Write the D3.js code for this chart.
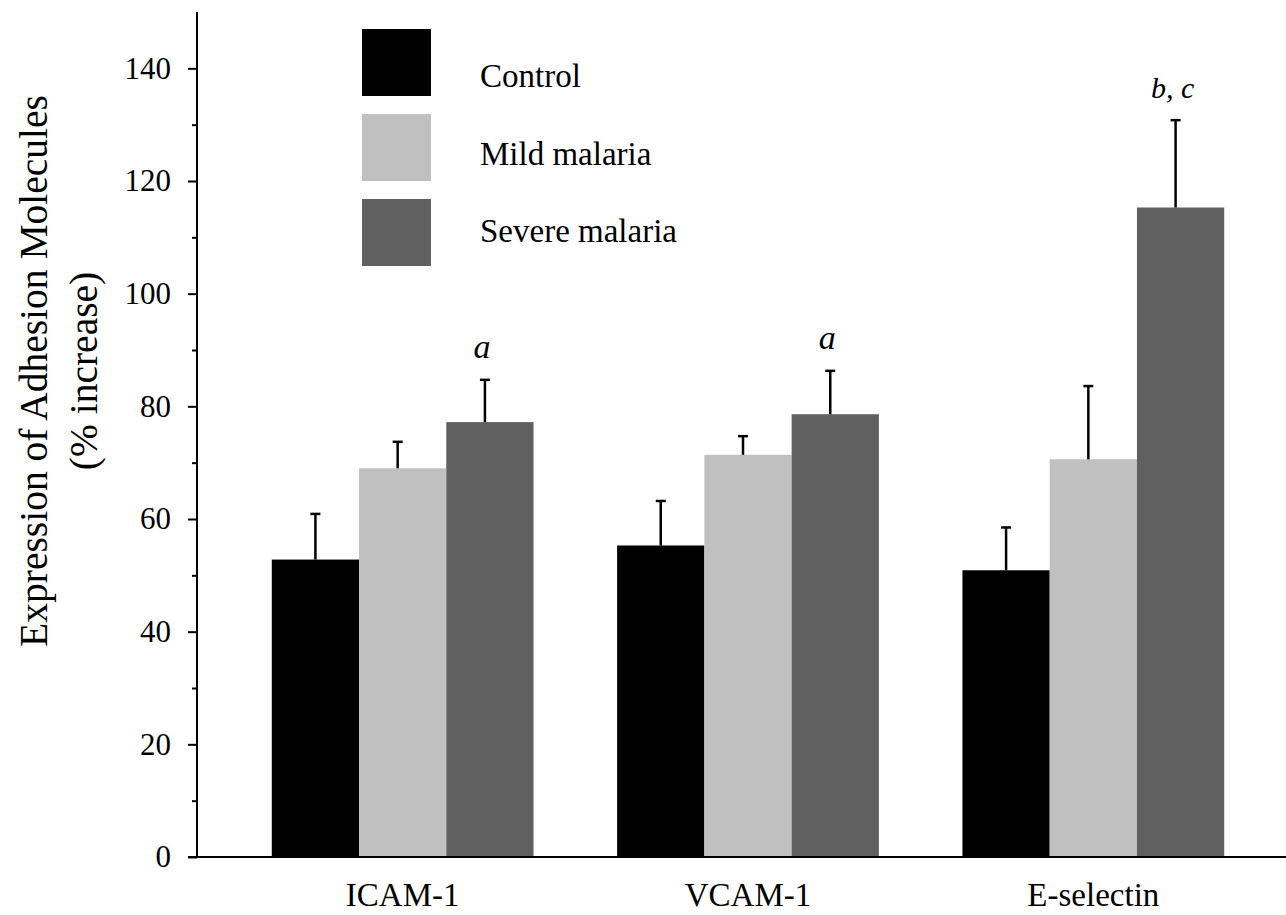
<!DOCTYPE html>
<html>
<head>
<meta charset="utf-8">
<script src="https://cdn.jsdelivr.net/npm/d3@7"></script>
<style>
  body { margin: 0; background: #fff; }
</style>
</head>
<body>
<div id="chart-container"></div>
<script>
// chart size
const width = 1286;
const height = 915;
const serif = "Liberation Serif";

// data
const groups = ["ICAM-1", "VCAM-1", "E-selectin"];
const series = ["Control", "Mild malaria", "Severe malaria"];
const colors = ["#000000", "#c0c0c0", "#606060"];
const means = [
  [52.8, 69.0, 77.2],   // ICAM-1
  [55.3, 71.4, 78.6],   // VCAM-1
  [50.9, 70.6, 115.3]   // E-selectin
];
const errors = [
  [8.1, 4.7, 7.5],
  [7.9, 3.3, 7.7],
  [7.6, 13.0, 15.5]
];
const yTicks = [0, 20, 40, 60, 80, 100, 120, 140];
const yMinorTicks = [10, 30, 50, 70, 90, 110, 130];
const notes = [
  { group: 0, serie: 2, label: "a", size: 34 },
  { group: 1, serie: 2, label: "a", size: 34 },
  { group: 2, serie: 2, label: "b, c", size: 30 }
];

const svg = d3.select("#chart-container")
  .append("svg")
  .attr("width", width)
  .attr("height", height);

// scales
const axisX = 197;
const y = d3.scaleLinear().domain([0, 150]).range([857, 12]);

const x0 = d3.scaleBand()
  .domain(groups)
  .range([230, 1266])
  .paddingInner(0.242)
  .paddingOuter(0.121);

const x1 = d3.scaleBand()
  .domain(series)
  .range([0, x0.bandwidth()]);

// flatten into bar records
const bars = [];
groups.forEach((g, gi) => {
  series.forEach((s, si) => {
    bars.push({ group: g, serie: s, si: si, value: means[gi][si], err: errors[gi][si] });
  });
});

// bars
svg.append("g")
  .selectAll("rect")
  .data(bars)
  .enter()
  .append("rect")
  .attr("x", d => x0(d.group) + x1(d.serie))
  .attr("y", d => y(d.value))
  .attr("width", x1.bandwidth())
  .attr("height", d => y(0) - y(d.value) + 1)
  .attr("fill", d => colors[d.si]);

// error bars (upper only), drawn a little left of centre like the original
const eb = svg.append("g")
  .attr("stroke", "#000")
  .attr("stroke-width", 2.5);

const cx = d => x0(d.group) + x1(d.serie) + x1.bandwidth() / 2 - (d.si > 0 ? 5 : 0);

eb.selectAll("line.stem")
  .data(bars)
  .enter()
  .append("line")
  .attr("class", "stem")
  .attr("x1", cx)
  .attr("x2", cx)
  .attr("y1", d => y(d.value))
  .attr("y2", d => y(d.value + d.err));

eb.selectAll("line.cap")
  .data(bars)
  .enter()
  .append("line")
  .attr("class", "cap")
  .attr("x1", d => cx(d) - 5)
  .attr("x2", d => cx(d) + 5)
  .attr("y1", d => y(d.value + d.err))
  .attr("y2", d => y(d.value + d.err));

// y axis
const yAxis = svg.append("g")
  .attr("transform", `translate(${axisX},0)`)
  .call(d3.axisLeft(y).tickValues(yTicks).tickSize(9).tickPadding(17).tickFormat(d3.format("d")));
yAxis.attr("font-family", null).attr("font-size", null);
yAxis.select(".domain").remove();
yAxis.selectAll(".tick line").attr("stroke", "#000").attr("stroke-width", 2);
yAxis.selectAll(".tick text")
  .style("font-family", serif)
  .style("font-size", "31px")
  .attr("fill", "#000");

svg.append("g")
  .attr("transform", `translate(${axisX},0)`)
  .call(d3.axisLeft(y).tickValues(yMinorTicks).tickSize(5).tickFormat(""))
  .call(g => g.select(".domain").remove())
  .selectAll(".tick line").attr("stroke", "#000").attr("stroke-width", 2);

svg.append("line")
  .attr("x1", axisX).attr("x2", axisX)
  .attr("y1", y(150)).attr("y2", y(0))
  .attr("stroke", "#000").attr("stroke-width", 2);

// x axis line
svg.append("line")
  .attr("x1", axisX - 9).attr("x2", width)
  .attr("y1", y(0)).attr("y2", y(0))
  .attr("stroke", "#000").attr("stroke-width", 2);

// group labels
svg.append("g")
  .selectAll("text")
  .data(groups)
  .enter()
  .append("text")
  .attr("x", d => x0(d) + x0.bandwidth() / 2)
  .attr("y", 906)
  .attr("text-anchor", "middle")
  .style("font-family", serif)
  .style("font-size", "33px")
  .text(d => d);

// y axis title
const title = svg.append("text")
  .attr("transform", "translate(47,371) rotate(-90)")
  .attr("text-anchor", "middle")
  .style("font-family", serif)
  .style("font-size", "39.5px");
title.append("tspan").attr("x", 0).attr("y", 0).text("Expression of Adhesion Molecules");
title.append("tspan").attr("x", 0).attr("y", 50).text("(% increase)");

// significance letters
svg.append("g")
  .selectAll("text")
  .data(notes)
  .enter()
  .append("text")
  .attr("x", d => x0(groups[d.group]) + x1(series[d.serie]) + x1.bandwidth() / 2 - 8)
  .attr("y", d => y(means[d.group][d.serie] + errors[d.group][d.serie]) - 22)
  .attr("text-anchor", "middle")
  .style("font-family", serif)
  .style("font-style", "italic")
  .style("font-size", d => d.size + "px")
  .text(d => d.label);

// legend
const legend = svg.append("g");
legend.selectAll("rect")
  .data(series)
  .enter()
  .append("rect")
  .attr("x", 362)
  .attr("y", (d, i) => 29 + i * 85)
  .attr("width", 69)
  .attr("height", 67)
  .attr("fill", (d, i) => colors[i]);

legend.selectAll("text")
  .data(series)
  .enter()
  .append("text")
  .attr("x", 480)
  .attr("y", (d, i) => 87 + i * 77.5)
  .style("font-family", serif)
  .style("font-size", "33px")
  .text(d => d);
</script>
</body>
</html>
